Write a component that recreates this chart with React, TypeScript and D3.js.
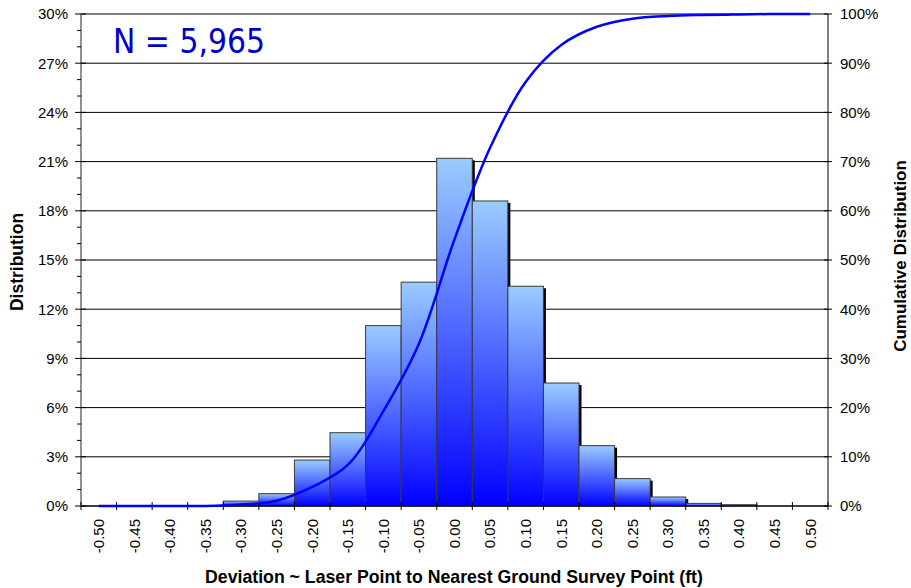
import { useMemo } from "react";
import { scaleBand, scaleLinear, line as d3line, curveCatmullRom, range } from "d3";

const WIDTH = 911;
const HEIGHT = 588;
const PLOT = { left: 81, right: 828, top: 14, bottom: 506 };

const categories = [
  "-0.50", "-0.45", "-0.40", "-0.35", "-0.30", "-0.25", "-0.20", "-0.15", "-0.10", "-0.05",
  "0.00", "0.05", "0.10", "0.15", "0.20", "0.25", "0.30", "0.35", "0.40", "0.45", "0.50",
];

// distribution per bin, percent
const distribution = [
  0, 0, 0, 0.02, 0.3, 0.75, 2.8, 4.47, 11.0, 13.65,
  21.2, 18.6, 13.4, 7.5, 3.68, 1.67, 0.55, 0.16, 0.08, 0, 0,
];

// cumulative distribution, percent
const cumulative = [
  0, 0, 0, 0.02, 0.32, 1.07, 3.87, 8.34, 19.3, 33.0,
  54.2, 72.8, 86.2, 93.7, 97.4, 99.05, 99.6, 99.8, 99.9, 100, 100,
];

const leftTicks = [0, 3, 6, 9, 12, 15, 18, 21, 24, 27, 30];
const rightTicks = [0, 10, 20, 30, 40, 50, 60, 70, 80, 90, 100];

const FONT = "'Liberation Sans', Arial, sans-serif";

export default function App() {
  const x = scaleBand<string>().domain(categories).range([PLOT.left, PLOT.right]).padding(0);
  const yL = scaleLinear().domain([0, 30]).range([PLOT.bottom, PLOT.top]);
  const yR = scaleLinear().domain([0, 100]).range([PLOT.bottom, PLOT.top]);
  const bw = x.bandwidth();
  const cx = (c: string) => (x(c) ?? 0) + bw / 2;

  const cumPath = useMemo(() => {
    const gen = d3line<number>()
      .x((_, i) => cx(categories[i]))
      .y((v) => yR(v))
      .curve(curveCatmullRom.alpha(0.5));
    return gen(cumulative) ?? "";
  }, []);

  const minorTicks = range(0, 31, 1).filter((v) => v % 3 !== 0);
  const boundaries = range(0, categories.length + 1).map((i) => PLOT.left + i * bw);

  return (
    <svg
      width={WIDTH}
      height={HEIGHT}
      viewBox={`0 0 ${WIDTH} ${HEIGHT}`}
      style={{ position: "absolute", left: 0, top: 0, background: "#fff" }}
      fontFamily={FONT}
    >
      <defs>
        <linearGradient id="barFill" x1="0" y1="0" x2="0" y2="1">
          <stop offset="0%" stopColor="#99ccff" />
          <stop offset="100%" stopColor="#0000ff" />
        </linearGradient>
      </defs>

      {/* gridlines */}
      {leftTicks.map((t) => (
        <line key={t} x1={PLOT.left} x2={PLOT.right} y1={yL(t)} y2={yL(t)} stroke="#000" strokeWidth={1} />
      ))}

      {/* bar shadows */}
      {categories.map((c, i) =>
        distribution[i] > 0 ? (
          <rect
            key={`s${c}`}
            x={(x(c) ?? 0) + 2.5}
            y={yL(distribution[i]) + 2}
            width={bw}
            height={PLOT.bottom - yL(distribution[i]) - 2}
            fill="#000"
          />
        ) : null
      )}

      {/* bars */}
      {categories.map((c, i) =>
        distribution[i] > 0 ? (
          <rect
            key={c}
            x={x(c)}
            y={yL(distribution[i])}
            width={bw}
            height={PLOT.bottom - yL(distribution[i])}
            fill="url(#barFill)"
            stroke="#3a3a3a"
            strokeWidth={1}
          />
        ) : null
      )}

      {/* axes */}
      <line x1={PLOT.left} x2={PLOT.left} y1={PLOT.top} y2={PLOT.bottom} stroke="#555" strokeWidth={1.3} />
      <line x1={PLOT.right} x2={PLOT.right} y1={PLOT.top} y2={PLOT.bottom} stroke="#000" strokeWidth={1} />
      <line x1={PLOT.left} x2={PLOT.right} y1={PLOT.bottom} y2={PLOT.bottom} stroke="#000" strokeWidth={1} />

      {leftTicks.map((t) => (
        <g key={`lt${t}`}>
          <line x1={PLOT.left - 6} x2={PLOT.left + 5} y1={yL(t)} y2={yL(t)} stroke="#000" />
          <text x={68} y={yL(t)} dy="0.36em" textAnchor="end" fontSize={15} fill="#000">
            {`${t}%`}
          </text>
        </g>
      ))}
      {minorTicks.map((t) => (
        <line key={`mt${t}`} x1={PLOT.left - 4} x2={PLOT.left} y1={yL(t)} y2={yL(t)} stroke="#000" />
      ))}

      {rightTicks.map((t) => (
        <g key={`rt${t}`}>
          <line x1={PLOT.right - 4} x2={PLOT.right + 4} y1={yR(t)} y2={yR(t)} stroke="#000" />
          <text x={840} y={yR(t)} dy="0.36em" textAnchor="start" fontSize={15} fill="#000">
            {`${t}%`}
          </text>
        </g>
      ))}

      {boundaries.map((bx, i) => (
        <line key={`xt${i}`} x1={bx} x2={bx} y1={PLOT.bottom - 4} y2={PLOT.bottom + 4} stroke="#000" />
      ))}
      {categories.map((c) => (
        <text
          key={`xl${c}`}
          transform={`translate(${cx(c)},519) rotate(-90)`}
          dy="0.36em"
          textAnchor="end"
          fontSize={15}
          fill="#000"
        >
          {c}
        </text>
      ))}

      {/* cumulative curve */}
      <path d={cumPath} fill="none" stroke="#0000ff" strokeWidth={2.5} strokeLinejoin="round" />

      <text x={113} y={53} fontSize={34} fill="#0000cc" fontFamily="'DejaVu Sans', sans-serif" textLength={152} lengthAdjust="spacingAndGlyphs">
        N = 5,965
      </text>

      {/* axis titles */}
      <text x={454} y={583} textAnchor="middle" fontSize={17.7} fontWeight="bold" fill="#000">
        Deviation ~ Laser Point to Nearest Ground Survey Point (ft)
      </text>
      <text transform="translate(23,262) rotate(-90)" textAnchor="middle" fontSize={17.5} fontWeight="bold" fill="#000">
        Distribution
      </text>
      <text transform="translate(906,256) rotate(-90)" textAnchor="middle" fontSize={17} fontWeight="bold" fill="#000">
        Cumulative Distribution
      </text>
    </svg>
  );
}
